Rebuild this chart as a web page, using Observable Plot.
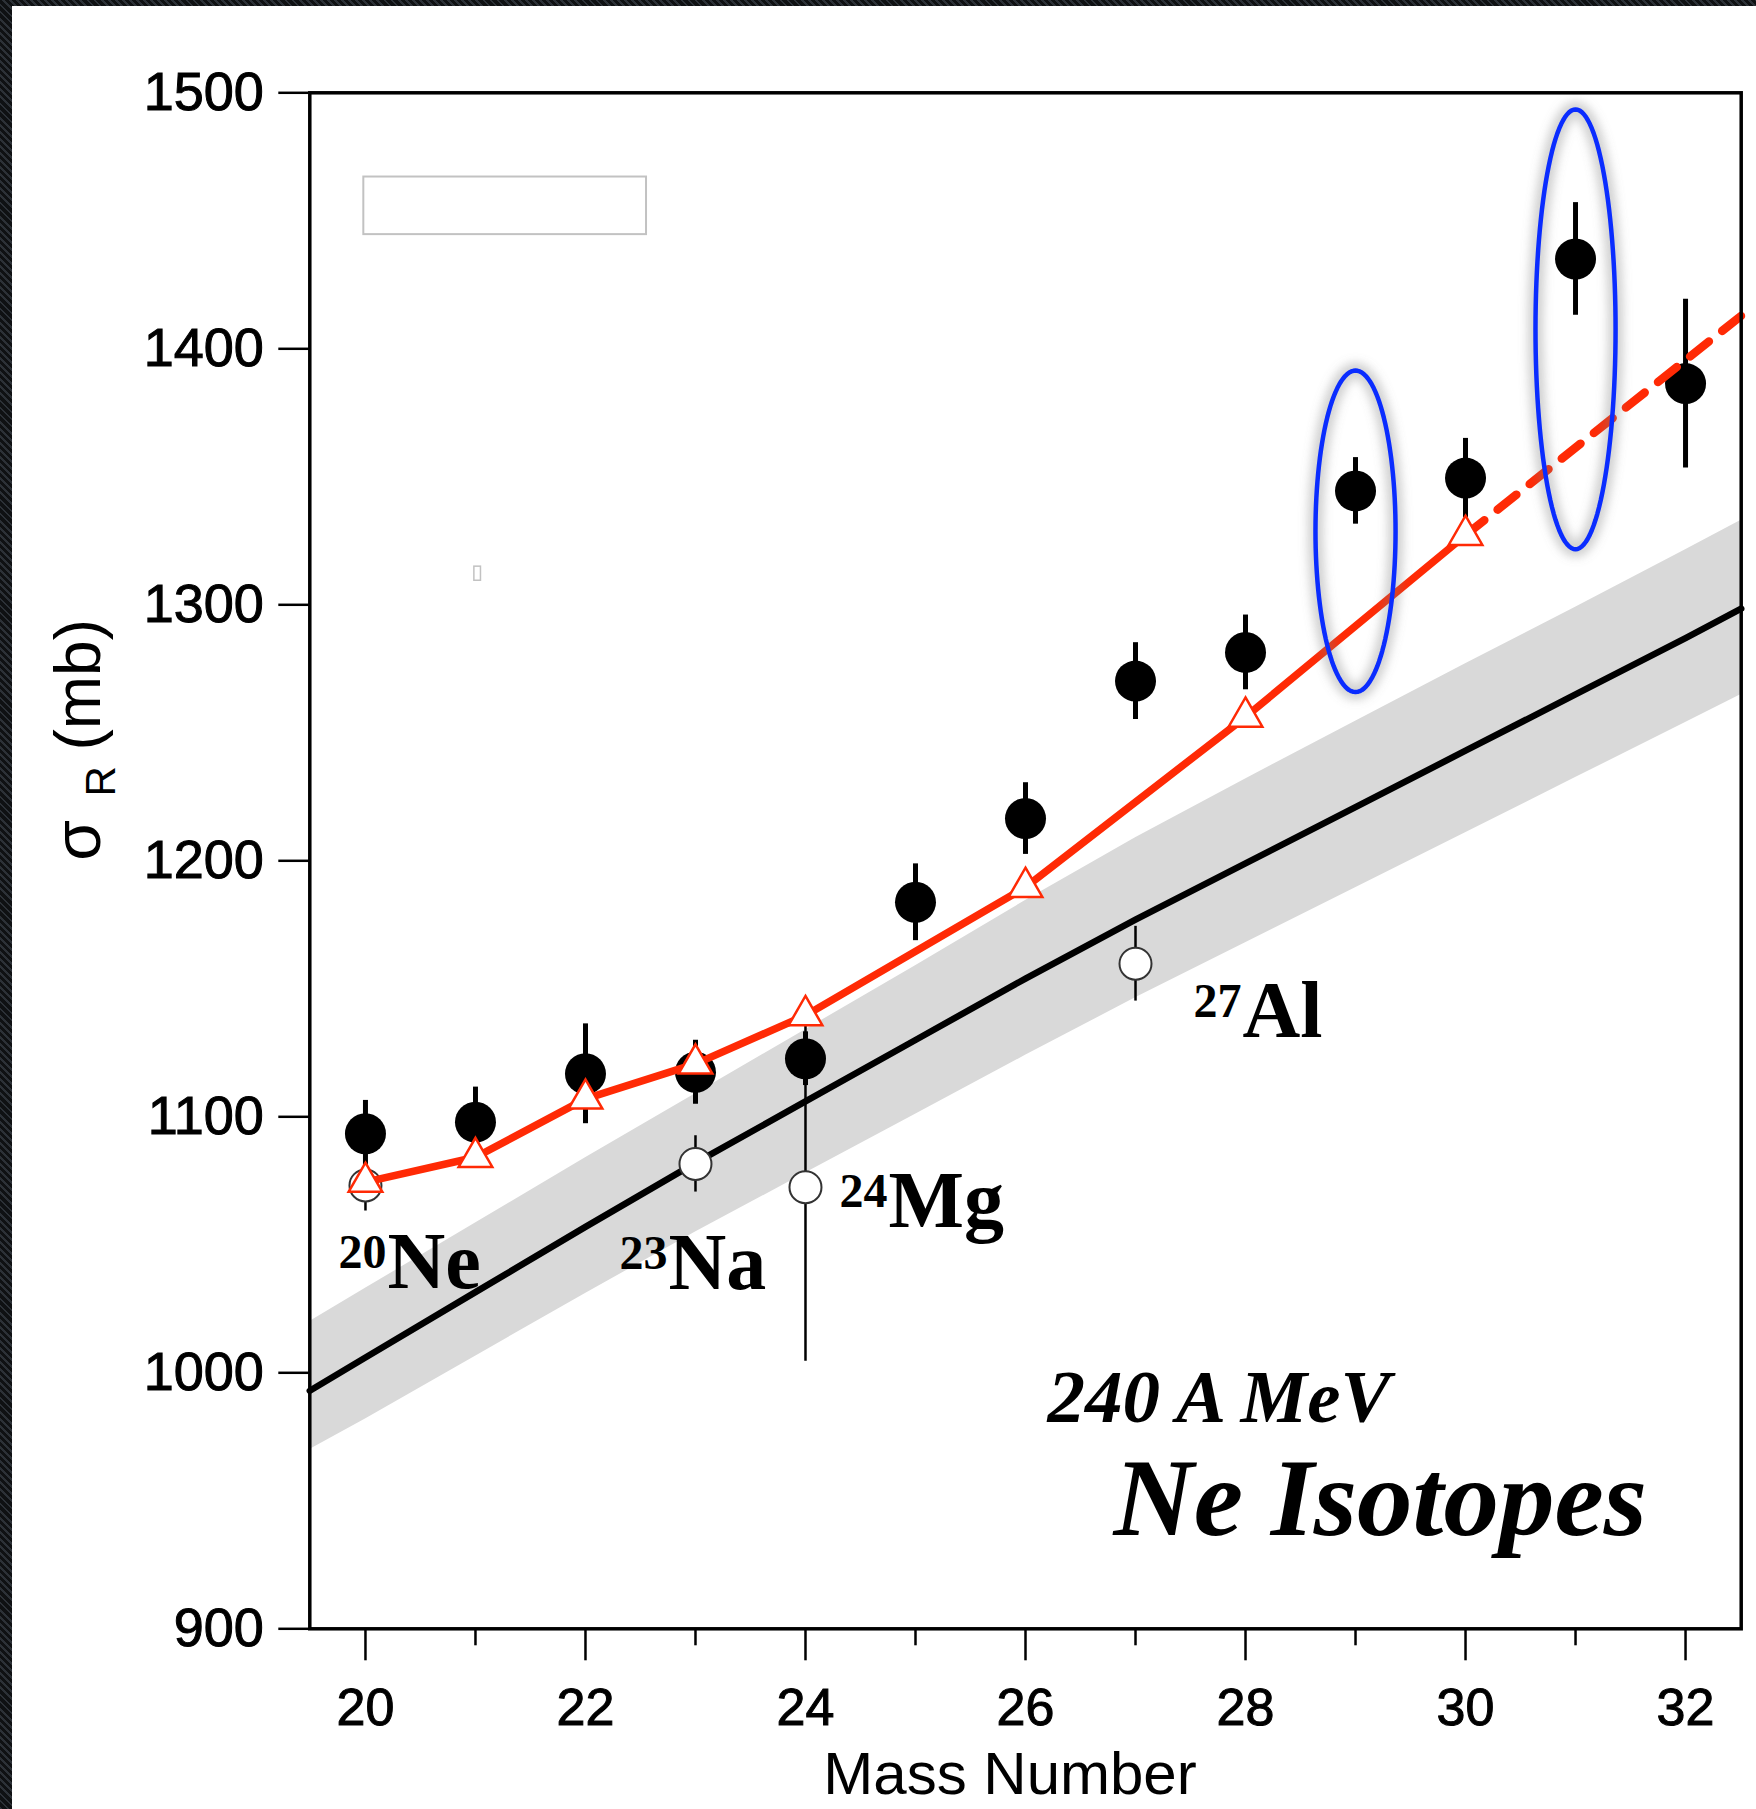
<!DOCTYPE html>
<html><head><meta charset="utf-8">
<script src="https://cdn.jsdelivr.net/npm/d3@7"></script>
<script src="https://cdn.jsdelivr.net/npm/@observablehq/plot@0.6"></script>
<style>
html,body{margin:0;padding:0;}
body{width:1756px;height:1809px;overflow:hidden;position:relative;background:#15181b;
  background-image:repeating-linear-gradient(45deg,#2c3137 0 2px,#0f1113 2px 5px);}
#chart{position:absolute;left:12px;top:6px;width:1744px;height:1803px;background:#fff;}
#chart svg{display:block;background:#fff;}
#chart g[aria-label="y-axis tick label"] text,#chart g[aria-label="x-axis tick label"] text{stroke:#000;stroke-width:1px;}
</style></head>
<body><div id="chart"></div>
<script>
// ---- data ----
const xDomain = [19.494, 32.506];
const yDomain = [900, 1500];
const yTicks = [900, 1000, 1100, 1200, 1300, 1400, 1500];
const xMajorTicks = [20, 22, 24, 26, 28, 30, 32];
const xMinorTicks = [21, 23, 25, 27, 29, 31];

// measured Ne isotopes (filled circles)
const massNumbers = [20, 21, 22, 23, 24, 25, 26, 27, 28, 29, 30, 31, 32];
const sigmaNe     = [1093.4, 1097.9, 1116.8, 1117.4, 1122.7, 1183.8, 1216.5, 1270.2, 1281.4, 1344.5, 1349.5, 1435.1, 1386.4];
const sigmaNeErr  = [13, 13.7, 19.5, 12.5, 10.5, 15, 14, 15, 14.6, 13, 15.5, 22, 33];

// stable targets (open circles)
const stableSymbols = ["Ne", "Na", "Mg", "Al"];
const stableA       = [20, 23, 24, 27];
const stableSigma   = [1073.2, 1081.6, 1072.5, 1159.8];
const stableErr     = [10, 11, 68, 14.6];

// calculation (red triangles)
const calcA     = [20, 21, 22, 23, 24, 26, 28, 30];
const calcSigma = [1074.5, 1084.2, 1107, 1120.7, 1139.6, 1189.7, 1256.2, 1327.2];
const extrapA     = [30, 32.506];
const extrapSigma = [1327.2, 1412.9];

// systematic curve (black) and its band (grey)
const curveA    = [19.494, 20, 21, 22, 23, 24, 25, 26, 27, 28, 29, 30, 31, 32, 32.506];
const curveMid  = [993, 1006, 1031.5, 1057, 1082, 1106, 1130, 1154, 1177, 1199, 1221, 1243, 1265, 1287, 1298.5];
const curveLow  = [970, 982, 1006.5, 1031, 1055, 1078, 1101, 1124, 1146.5, 1168, 1189.5, 1211, 1232.5, 1254, 1265];
const curveHigh = [1020, 1033, 1058.5, 1084, 1109, 1134, 1159, 1184.5, 1209, 1232, 1254.5, 1277, 1299, 1321.5, 1333];

// highlighted points (blue ellipses)
const highlightA      = [29, 31];
const highlightLow    = [1265.9, 1321.7];
const highlightHigh   = [1391.5, 1493.5];
const highlightHalfW  = [0.364, 0.364];

// empty legend box and a tiny stray box
const legendBoxA = [19.985, 22.555];
const legendBoxS = [1444.6, 1467.1];
const strayBoxA = [20.99, 21.05];
const strayBoxS = [1309.4, 1314.9];

// ---- tables ----
const measured = massNumbers.map((a, i) => ({a, s: sigmaNe[i], lo: sigmaNe[i] - sigmaNeErr[i], hi: sigmaNe[i] + sigmaNeErr[i]}));
const stable = stableA.map((a, i) => ({a, s: stableSigma[i], lo: stableSigma[i] - stableErr[i], hi: stableSigma[i] + stableErr[i], sym: stableSymbols[i], num: String(a)}));
const calc = calcA.map((a, i) => ({a, s: calcSigma[i]}));
const extrap = extrapA.map((a, i) => ({a, s: extrapSigma[i]}));
const curve = curveA.map((a, i) => ({a, mid: curveMid[i], low: curveLow[i], high: curveHigh[i]}));
const ellipsePts = highlightA.flatMap((cx, k) => {
  const cy = (highlightLow[k] + highlightHigh[k]) / 2, ry = (highlightHigh[k] - highlightLow[k]) / 2;
  return d3.range(0, 361, 3).map(t => ({k, x: cx + highlightHalfW[k] * Math.cos(t * Math.PI / 180), y: cy + ry * Math.sin(t * Math.PI / 180)}));
});
const legendBox = [{x1: legendBoxA[0], x2: legendBoxA[1], y1: legendBoxS[0], y2: legendBoxS[1]}];
const strayBox = [{x1: strayBoxA[0], x2: strayBoxA[1], y1: strayBoxS[0], y2: strayBoxS[1]}];

const RED = "#ff2a05", BLUE = "#0a2cff", GLOW = "#7a7a7a";
const serif = "'Liberation Serif', 'Times New Roman', serif";

// label offsets (px) from each stable point
const labelOffsets = {Ne: [21, 103], Na: [-28, 125], Mg: [82, 40], Al: [106, 73]};
const labelMarks = stable.flatMap(d => {
  const [ox, oy] = labelOffsets[d.sym];
  return [
    Plot.text([d], {x: "a", y: "s", text: "num", dx: ox, dy: oy - 20, textAnchor: "end", lineAnchor: "bottom", fontFamily: serif, fontWeight: "bold", fontSize: 48, fill: "black"}),
    Plot.text([d], {x: "a", y: "s", text: "sym", dx: ox + 1, dy: oy, textAnchor: "start", lineAnchor: "bottom", fontFamily: serif, fontWeight: "bold", fontSize: 80, fill: "black"})
  ];
});

const chart = Plot.plot({
  width: 1744, height: 1803,
  marginLeft: 297.3, marginRight: 15.3, marginTop: 86.3, marginBottom: 180.7,
  x: {domain: xDomain},
  y: {domain: yDomain},
  style: {background: "white", fontFamily: "'Liberation Sans', Arial, sans-serif", overflow: "visible"},
  marks: [
    Plot.areaY(curve, {x: "a", y1: "low", y2: "high", fill: "#d9d9d9"}),
    Plot.line(curve, {x: "a", y: "mid", stroke: "black", strokeWidth: 6.5}),
    Plot.rect(legendBox, {x1: "x1", x2: "x2", y1: "y1", y2: "y2", fill: "white", stroke: "#c2c2c2", strokeWidth: 2}),
    Plot.rect(strayBox, {x1: "x1", x2: "x2", y1: "y1", y2: "y2", fill: "white", stroke: "#c2c2c2", strokeWidth: 1.5}),
    Plot.ruleX(stable, {x: "a", y1: "lo", y2: "hi", stroke: "black", strokeWidth: 2.5}),
    Plot.dot(stable, {x: "a", y: "s", r: 16, fill: "white", stroke: "#333", strokeWidth: 2}),
    Plot.ruleX(measured, {x: "a", y1: "lo", y2: "hi", stroke: "black", strokeWidth: 5}),
    Plot.dot(measured, {x: "a", y: "s", r: 20.5, fill: "black"}),
    Plot.line(calc, {x: "a", y: "s", stroke: RED, strokeWidth: 7.5}),
    Plot.line(extrap, {x: "a", y: "s", stroke: RED, strokeWidth: 8.5, strokeDasharray: "24,17"}),
    Plot.dot(calc, {x: "a", y: "s", symbol: "triangle", r: 12.5, fill: "white", stroke: RED, strokeWidth: 2.5}),
    Plot.line(ellipsePts, {x: "x", y: "y", z: "k", stroke: GLOW, strokeWidth: 16, strokeOpacity: 0.35}),
    Plot.line(ellipsePts, {x: "x", y: "y", z: "k", stroke: BLUE, strokeWidth: 4.5}),
    ...labelMarks,
    Plot.text(["240 A MeV"], {frameAnchor: "bottom-left", dx: 737.7, dy: -207.3, textAnchor: "start", lineAnchor: "bottom", fontFamily: serif, fontStyle: "italic", fontWeight: "bold", fontSize: 75, fill: "black"}),
    Plot.text(["Ne Isotopes"], {frameAnchor: "bottom-left", dx: 803.7, dy: -93.9, textAnchor: "start", lineAnchor: "bottom", fontFamily: serif, fontStyle: "italic", fontWeight: "bold", fontSize: 111, fill: "black"}),
    Plot.axisY({ticks: yTicks, tickSize: 31, tickPadding: 15, fontSize: 54, strokeWidth: 2.5, label: null, tickFormat: d => String(d)}),
    Plot.axisX({ticks: xMajorTicks, tickSize: 32, tickPadding: 27, fontSize: 52, strokeWidth: 2.5, label: null, tickFormat: d => String(d)}),
    Plot.axisX({ticks: xMinorTicks, tickSize: 17, strokeWidth: 2.5, label: null, tickFormat: () => ""}),
    Plot.text(["Mass Number"], {frameAnchor: "bottom", dx: -15.5, dy: 165, textAnchor: "middle", lineAnchor: "bottom", fontSize: 60, fill: "black"}),
    Plot.text(["σ"], {frameAnchor: "left", rotate: -90, dx: -209.3, dy: 0, textAnchor: "start", lineAnchor: "bottom", fontSize: 66, fill: "black"}),
    Plot.text(["R"], {frameAnchor: "left", rotate: -90, dx: -194.3, dy: -64.3, textAnchor: "start", lineAnchor: "bottom", fontSize: 42, fill: "black"}),
    Plot.text(["(mb)"], {frameAnchor: "left", rotate: -90, dx: -209.3, dy: -110.3, textAnchor: "start", lineAnchor: "bottom", fontSize: 64, fill: "black"}),
    Plot.frame({stroke: "black", strokeWidth: 3.5})
  ]
});

// soften the grey halo around the blue ellipses
const svg = d3.select(chart);
const defs = svg.insert("defs", ":first-child");
defs.append("filter").attr("id", "halo").attr("x", "-50%").attr("y", "-20%").attr("width", "200%").attr("height", "140%")
  .append("feGaussianBlur").attr("stdDeviation", 5);
svg.selectAll("g").filter(function () { return this.getAttribute("stroke") === GLOW; }).attr("filter", "url(#halo)");

document.getElementById("chart").appendChild(chart);
</script></body></html>
